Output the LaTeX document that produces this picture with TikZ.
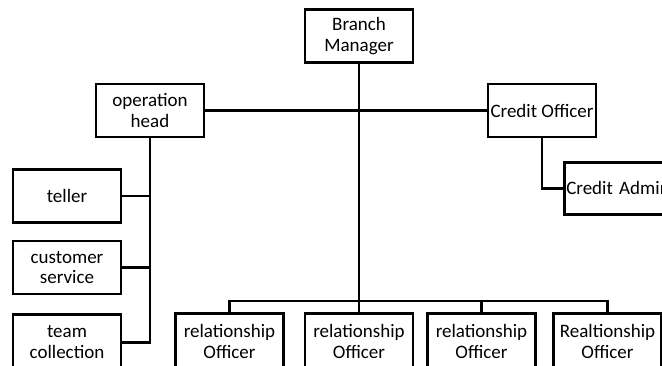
\documentclass[tikz,border=0pt]{standalone}
\usepackage{fontspec}
\setmainfont{Carlito}
\usetikzlibrary{positioning}

\begin{document}
\begin{tikzpicture}[x=1pt,y=-1pt,
    box/.style={draw, rectangle, line width=2.5pt, fill=white, align=center, minimum width=108pt, minimum height=53pt, inner sep=0pt, font=\fontsize{19}{20.5}\selectfont},
    link/.style={line width=2.5pt}]
    \useasboundingbox (0,0) rectangle (662,365);
    \clip (0,0) rectangle (662,365);
    \node[box] (bm) at (359,36) {Branch\\Manager};
    \node[box] (oh) at (150,110.5) {operation\\head};
    \node[box] (co) at (542,110.5) {Credit Officer};
    \node[box, anchor=north west, minimum width=130pt, text width=126pt, align=left, inner sep=2pt, minimum height=52pt] (ca) at (563,161) {Credit Admin};
    \node[box] (tel) at (67,196) {teller};
    \node[box] (cs) at (67,267.5) {customer\\service};
    \node[box, anchor=north, minimum height=56pt] (tc) at (67,313) {team\\collection};
    \node[box, anchor=north, minimum height=56pt] (rel1) at (229.5,312) {relationship\\Officer};
    \node[box, anchor=north, minimum height=56pt] (rel2) at (359,312) {relationship\\Officer};
    \node[box, anchor=north, minimum height=56pt] (rel3) at (481.5,312) {relationship\\Officer};
    \node[box, anchor=north, minimum height=56pt] (rel4) at (607.5,312) {Realtionship\\Officer};
    \coordinate (bus) at (359,301);

    \draw[link] (bm.south) -- (rel2.north);
    \draw[link] (oh.east) -- (co.west);
    \draw[link] (co.south) |- (ca.west);
    \draw[link] (oh.south) |- (tc.east);
    \draw[link] (tel.east) -- (tel.east -| oh.south);
    \draw[link] (cs.east) -- (cs.east -| oh.south);
    \draw[link] (rel1.north) |- (bus) -| (rel4.north);
    \draw[link] (rel3.north) -- (rel3.north |- bus);
\end{tikzpicture}
\end{document}
